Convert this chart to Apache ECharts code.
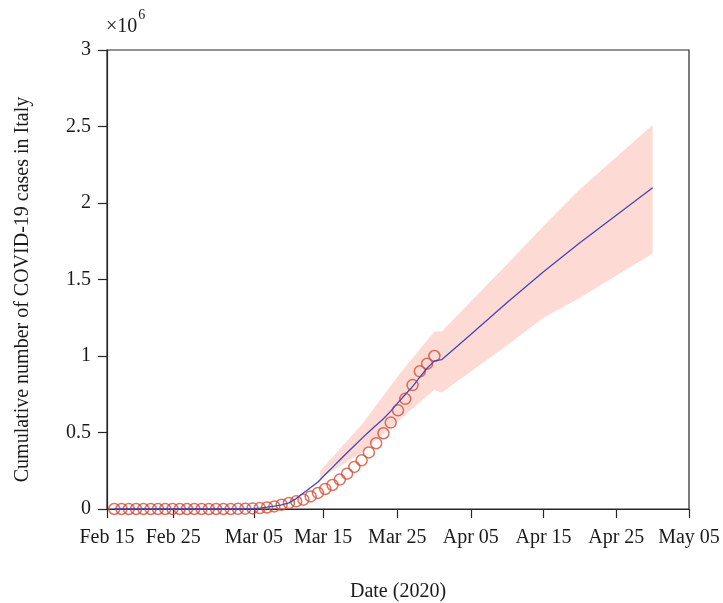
<!DOCTYPE html>
<html>
<head>
<meta charset="utf-8">
<script src="https://cdn.jsdelivr.net/npm/echarts@6/dist/echarts.min.js"></script>
<style>
	html, body { margin: 0; padding: 0; background: #fff; }
	#main { width: 723px; height: 603px; }
</style>
</head>
<body>
<div id="main"></div>
<script>
// x is days since Feb 15 2020, y is in millions of cases
var tickDays = [0, 9.1, 20.2, 29.7, 39.9, 50, 60, 70, 80];
var tickLabels = ['Feb 15', 'Feb 25', 'Mar 05', 'Mar 15', 'Mar 25', 'Apr 05', 'Apr 15', 'Apr 25', 'May 05'];

// reported cases (circles), one per day from Feb 16
var obsDays = [1, 2, 3, 4, 5, 6, 7, 8, 9, 10, 11, 12, 13, 14, 15, 16, 17, 18, 19, 20, 21, 22, 23,
	24, 25, 26, 27, 28, 29, 30, 31, 32, 33, 34, 35, 36, 37, 38, 39, 40, 41, 42, 43, 44, 45];
var obsCases = [0, 0, 0, 0, 0, 0, 0, 0, 0, 0, 0, 0, 0, 0, 0, 0, 0, 0.001, 0.002, 0.004, 0.006, 0.010, 0.017,
	0.028, 0.039, 0.050, 0.061, 0.082, 0.105, 0.131, 0.157, 0.192, 0.231, 0.275, 0.318, 0.37, 0.43, 0.495, 0.565,
	0.645, 0.72, 0.81, 0.90, 0.95, 1.00];

// model curve
var fitDays = [1, 19, 20, 21, 22, 23, 24, 25, 26, 27, 28, 29, 30, 31, 32, 33, 34, 35, 36, 37, 38, 39, 40,
	41, 42, 43, 44, 45, 46, 50, 55, 60, 65, 70, 75];
var fitCases = [0, 0, 0.002, 0.006, 0.012, 0.019, 0.027, 0.040, 0.068, 0.105, 0.14, 0.177, 0.225, 0.272, 0.32,
	0.368, 0.414, 0.46, 0.505, 0.548, 0.59, 0.64, 0.695, 0.748, 0.80, 0.862, 0.92, 0.968, 0.976, 1.14, 1.35,
	1.55, 1.74, 1.92, 2.10];

// confidence band
var bandDays = [29.3, 35, 40, 45, 46, 55, 60, 65, 75];
var bandLower = [0.2, 0.37, 0.573, 0.78, 0.76, 1.07, 1.25, 1.38, 1.67];
var bandUpper = [0.25, 0.55, 0.87, 1.16, 1.16, 1.60, 1.85, 2.09, 2.51];

var myChart = echarts.init(document.getElementById('main'));

var font = '"Liberation Serif", "DejaVu Serif", serif';
var ink = '#1a1a1a';
var axisColor = '#262626';

var bandRows = bandDays.map(function(d, i) { return [d, bandLower[i], bandUpper[i]]; });

option = {
	animation: false,
	textStyle: { fontFamily: font },
	grid: {
		left: 107,
		right: 34,
		top: 50,
		bottom: 94,
		outerBoundsMode: 'none',
		containLabel: false,
		show: true,
		borderColor: axisColor,
		borderWidth: 1.2
	},
	graphic: [{
		type: 'text',
		left: 106,
		top: 8,
		style: {
			text: '{a|×10}{b|6}',
			rich: {
				a: { fontFamily: font, fontSize: 20, fill: ink, padding: [9, 0, 0, 0] },
				b: { fontFamily: font, fontSize: 14, fill: ink, verticalAlign: 'top', padding: [0, 0, 9, 1] }
			}
		}
	}],
	xAxis: {
		type: 'value',
		min: 0,
		max: 80,
		name: 'Date (2020)',
		nameLocation: 'middle',
		nameGap: 73,
		nameTextStyle: { fontFamily: font, fontSize: 20, color: ink },
		splitLine: { show: false },
		axisLine: { lineStyle: { color: axisColor, width: 1.2 } },
		axisTick: {
			length: 9,
			customValues: tickDays,
			lineStyle: { color: axisColor, width: 1.2 }
		},
		axisLabel: {
			customValues: tickDays,
			margin: 19,
			fontFamily: font,
			fontSize: 20,
			color: ink,
			formatter: function(v) {
				var i = tickDays.indexOf(v);
				return i >= 0 ? tickLabels[i] : '';
			}
		}
	},
	yAxis: {
		type: 'value',
		min: 0,
		max: 3,
		interval: 0.5,
		name: 'Cumulative number of COVID-19 cases in Italy',
		nameLocation: 'middle',
		nameGap: 74,
		nameTextStyle: { fontFamily: font, fontSize: 20, color: ink, padding: [0, 20, 0, 0] },
		splitLine: { show: false },
		axisLine: { show: true, lineStyle: { color: axisColor, width: 1.2 } },
		axisTick: { show: true, length: 9, lineStyle: { color: axisColor, width: 1.2 } },
		axisLabel: { margin: 16, fontFamily: font, fontSize: 20, color: ink }
	},
	series: [{
			name: 'band',
			type: 'custom',
			silent: true,
			data: bandRows,
			encode: { x: 0, y: [1, 2] },
			renderItem: function(params, api) {
				if (params.dataIndex !== 0) return null;
				var pts = [];
				bandRows.forEach(function(r) { pts.push(api.coord([r[0], r[2]])); });
				for (var i = bandRows.length - 1; i >= 0; i--) {
					pts.push(api.coord([bandRows[i][0], bandRows[i][1]]));
				}
				return {
					type: 'polygon',
					shape: { points: pts },
					style: { fill: '#fddad4' }
				};
			},
			z: 1
		},
		{
			name: 'observed',
			type: 'scatter',
			symbol: 'circle',
			symbolSize: 11,
			itemStyle: {
				color: 'rgba(0,0,0,0)',
				borderColor: '#d24d36',
				borderWidth: 1.5
			},
			data: obsDays.map(function(d, i) { return [d, obsCases[i]]; }),
			z: 2
		},
		{
			name: 'model',
			type: 'line',
			symbol: 'none',
			lineStyle: { color: '#4646b4', width: 1.3 },
			data: fitDays.map(function(d, i) { return [d, fitCases[i]]; }),
			z: 3
		}
	]
};
myChart.setOption(option);
</script>
</body>
</html>
